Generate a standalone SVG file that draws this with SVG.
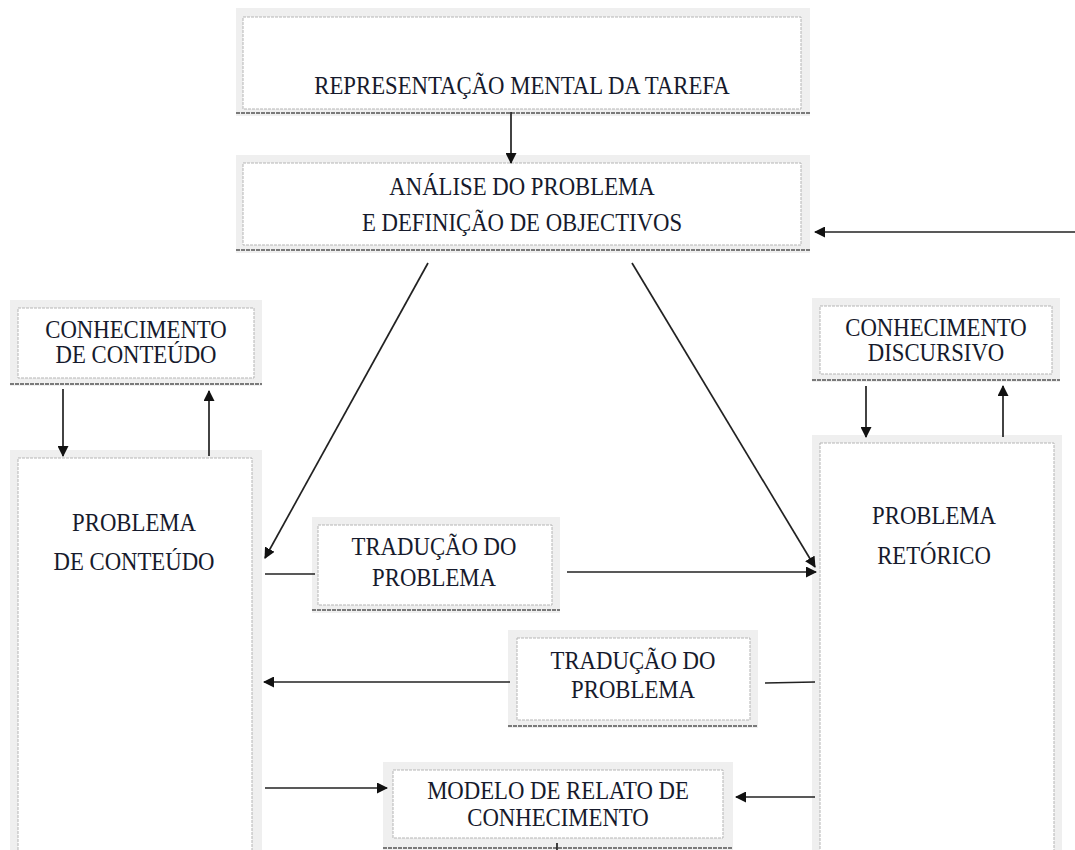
<svg xmlns="http://www.w3.org/2000/svg" width="1075" height="850" viewBox="0 0 1075 850">
<defs>
<marker id="ah" markerWidth="11" markerHeight="11" refX="10" refY="5.5" orient="auto" markerUnits="userSpaceOnUse">
<path d="M0,0 L11,5.5 L0,11 z" fill="#111"/>
</marker>
<style>
.frame{fill:#efefef}
.inner{fill:#fff;stroke:#b5b5b5;stroke-width:1;stroke-dasharray:3 1}
.base{stroke:#7a7a7a;stroke-width:2;stroke-dasharray:4 1;fill:none}
.t{font-family:"Liberation Serif","Times New Roman",serif;font-size:25px;fill:#161a2c;text-anchor:middle}
.c{stroke:#222;stroke-width:1.7;fill:none}
.a{stroke:#222;stroke-width:1.7;fill:none;marker-end:url(#ah)}
</style>
</defs>
<rect width="1075" height="850" fill="#fff"/>

<g id="rep">
<rect class="frame" x="236" y="8" width="574" height="108"/>
<rect class="inner" x="243" y="17" width="558" height="92"/>
<line class="base" x1="236" y1="113" x2="810" y2="113"/>
<text class="t" transform="matrix(0.91 0 0 1 522 0)" x="0" y="94">REPRESENTAÇÃO MENTAL DA TAREFA</text>
</g>

<g id="analise">
<rect class="frame" x="236" y="155" width="574" height="98"/>
<rect class="inner" x="243" y="163" width="558" height="82"/>
<line class="base" x1="236" y1="250" x2="810" y2="250"/>
<text class="t" transform="matrix(0.91 0 0 1 522 0)" x="0" y="195">ANÁLISE DO PROBLEMA</text>
<text class="t" transform="matrix(0.91 0 0 1 522 0)" x="0" y="231">E DEFINIÇÃO DE OBJECTIVOS</text>
</g>

<g id="conh-conteudo">
<rect class="frame" x="10" y="300" width="252" height="86"/>
<rect class="inner" x="18" y="308" width="236" height="70"/>
<line class="base" x1="10" y1="384" x2="262" y2="384"/>
<text class="t" transform="matrix(0.91 0 0 1 136 0)" x="0" y="338">CONHECIMENTO</text>
<text class="t" transform="matrix(0.91 0 0 1 136 0)" x="0" y="363">DE CONTEÚDO</text>
</g>

<g id="conh-discursivo">
<rect class="frame" x="812" y="298" width="248" height="84"/>
<rect class="inner" x="820" y="306" width="232" height="68"/>
<line class="base" x1="812" y1="380" x2="1060" y2="380"/>
<text class="t" transform="matrix(0.91 0 0 1 936 0)" x="0" y="336">CONHECIMENTO</text>
<text class="t" transform="matrix(0.91 0 0 1 936 0)" x="0" y="361">DISCURSIVO</text>
</g>

<g id="prob-conteudo">
<rect class="frame" x="10" y="450" width="252" height="410"/>
<rect class="inner" x="18" y="458" width="234" height="400"/>
<text class="t" transform="matrix(0.91 0 0 1 134 0)" x="0" y="531">PROBLEMA</text>
<text class="t" transform="matrix(0.91 0 0 1 134 0)" x="0" y="570">DE CONTEÚDO</text>
</g>

<g id="prob-retorico">
<rect class="frame" x="812" y="435" width="250" height="425"/>
<rect class="inner" x="820" y="443" width="234" height="415"/>
<text class="t" transform="matrix(0.91 0 0 1 934 0)" x="0" y="524">PROBLEMA</text>
<text class="t" transform="matrix(0.91 0 0 1 934 0)" x="0" y="564">RETÓRICO</text>
</g>

<g id="trad1">
<rect class="frame" x="312" y="517" width="248" height="96"/>
<rect class="inner" x="318" y="525" width="234" height="80"/>
<line class="base" x1="312" y1="610" x2="560" y2="610"/>
<text class="t" transform="matrix(0.91 0 0 1 434 0)" x="0" y="555">TRADUÇÃO DO</text>
<text class="t" transform="matrix(0.91 0 0 1 434 0)" x="0" y="586">PROBLEMA</text>
</g>

<g id="trad2">
<rect class="frame" x="508" y="630" width="250" height="98"/>
<rect class="inner" x="517" y="638" width="233" height="82"/>
<line class="base" x1="508" y1="726" x2="758" y2="726"/>
<text class="t" transform="matrix(0.91 0 0 1 633 0)" x="0" y="669">TRADUÇÃO DO</text>
<text class="t" transform="matrix(0.91 0 0 1 633 0)" x="0" y="698">PROBLEMA</text>
</g>

<g id="modelo">
<rect class="frame" x="383" y="762" width="350" height="95"/>
<rect class="inner" x="393" y="770" width="330" height="68"/>
<line class="base" x1="383" y1="848" x2="733" y2="848"/>
<text class="t" transform="matrix(0.91 0 0 1 558 0)" x="0" y="799">MODELO DE RELATO DE</text>
<text class="t" transform="matrix(0.91 0 0 1 558 0)" x="0" y="826">CONHECIMENTO</text>
</g>

<g id="connectors">
<line class="a" x1="511" y1="112" x2="511" y2="163"/>
<line class="a" x1="1075" y1="232" x2="815" y2="232"/>
<line class="a" x1="428" y1="263" x2="265" y2="558"/>
<line class="a" x1="632" y1="263" x2="815" y2="567"/>
<line class="a" x1="63" y1="389" x2="63" y2="456"/>
<line class="a" x1="209" y1="456" x2="209" y2="391"/>
<line class="a" x1="866" y1="386" x2="866" y2="437"/>
<line class="a" x1="1003" y1="437" x2="1003" y2="386"/>
<line class="c" x1="265" y1="574" x2="315" y2="574"/>
<line class="a" x1="567" y1="572" x2="816" y2="572"/>
<line class="a" x1="510" y1="682" x2="264" y2="682"/>
<line class="c" x1="765" y1="683" x2="815" y2="682"/>
<line class="a" x1="265" y1="788" x2="387" y2="788"/>
<line class="a" x1="815" y1="797" x2="736" y2="797"/>
<line class="c" x1="557" y1="843" x2="557" y2="850"/>
</g>
</svg>
